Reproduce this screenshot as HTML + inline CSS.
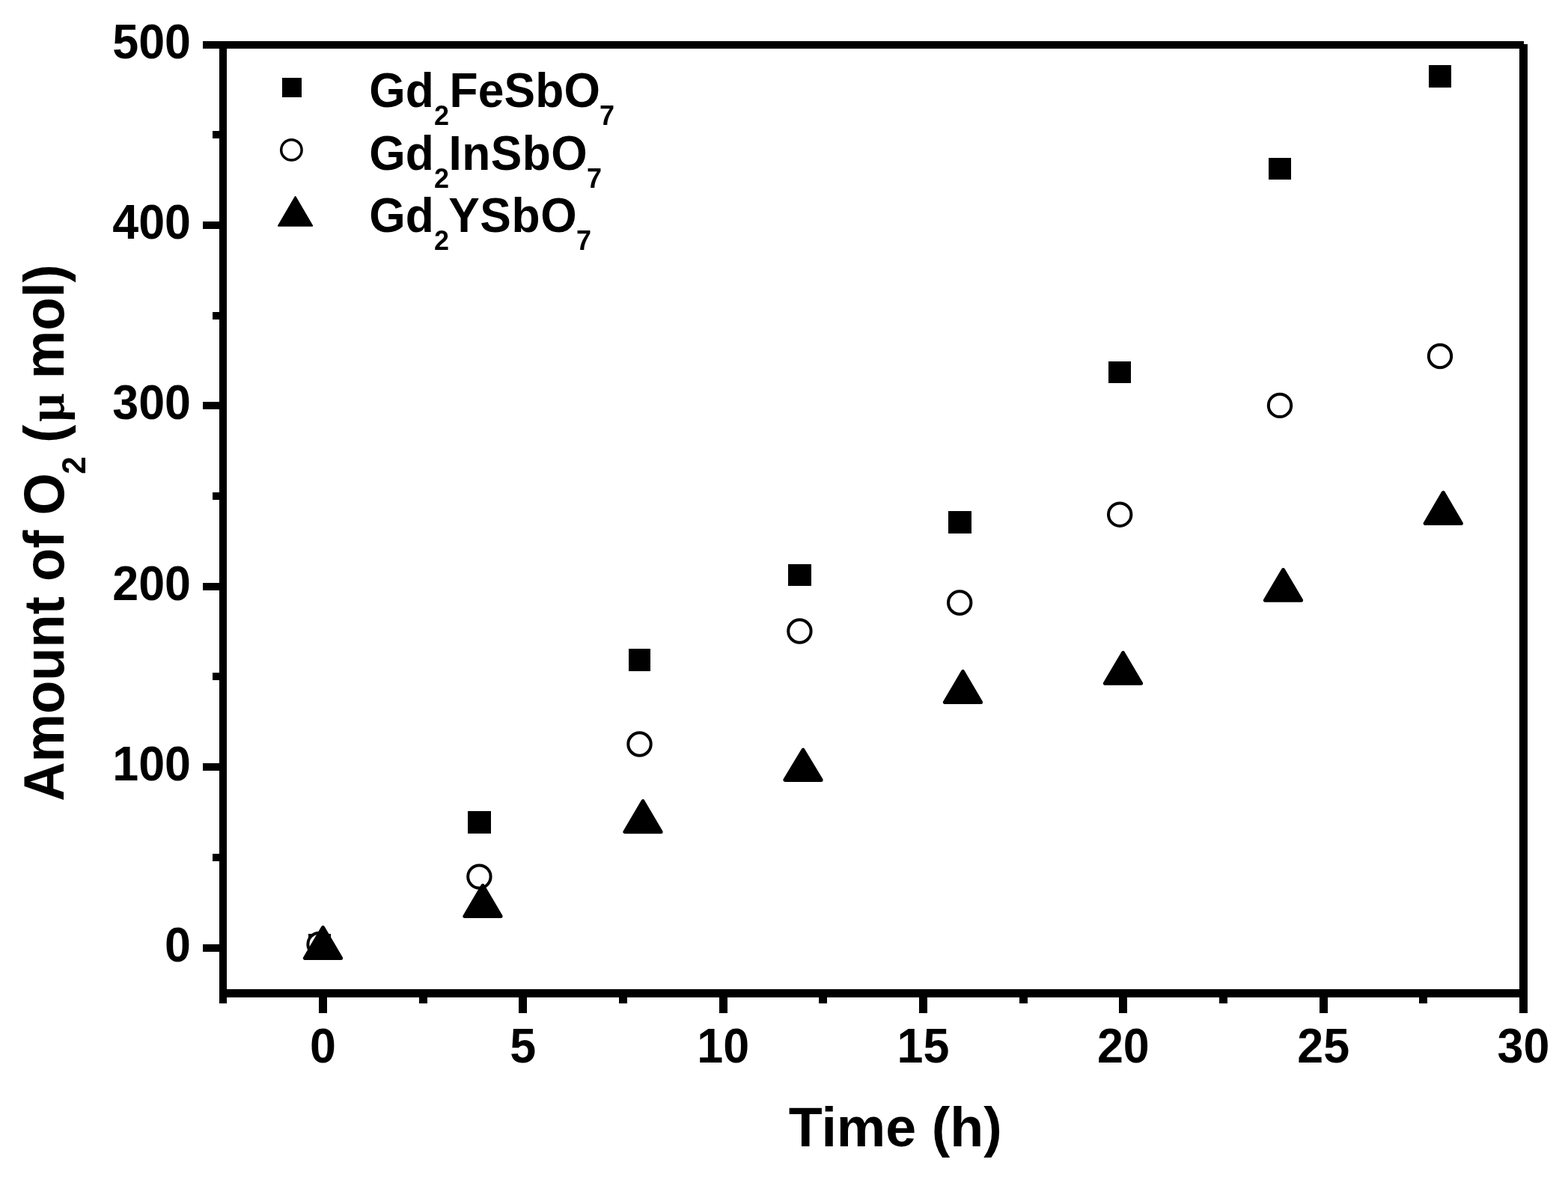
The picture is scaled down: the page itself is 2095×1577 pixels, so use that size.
<!DOCTYPE html>
<html lang="en"><head><meta charset="utf-8"><title>Amount of O2 vs Time</title>
<style>
html,body{margin:0;padding:0;background:#fff;}
body{width:2095px;height:1577px;overflow:hidden;}
svg{display:block;}
text{font-family:"Liberation Sans",sans-serif;font-weight:bold;fill:#000;}
.ax rect{shape-rendering:crispEdges;}
.sq rect{shape-rendering:crispEdges;}
tspan.mu{font-family:"Liberation Serif",serif;font-weight:bold;}
</style></head><body>
<svg width="2095" height="1577" viewBox="0 0 2095 1577" role="img" aria-label="Amount of O2 versus time for three photocatalysts">
<rect x="0" y="0" width="2095" height="1577" fill="#fff"/>
<g class="ax" fill="#000">
<rect x="271" y="55" width="1765" height="10"/>
<rect x="293" y="55" width="10" height="1286"/>
<rect x="293" y="1322" width="1748" height="11"/>
<rect x="2030" y="59" width="11" height="1295"/>
<rect x="271" y="1262" width="23" height="10"/>
<rect x="271" y="1020" width="23" height="10"/>
<rect x="271" y="779" width="23" height="10"/>
<rect x="271" y="537" width="23" height="10"/>
<rect x="271" y="296" width="23" height="10"/>
<rect x="284" y="1141" width="10" height="10"/>
<rect x="284" y="899" width="10" height="10"/>
<rect x="284" y="658" width="10" height="10"/>
<rect x="284" y="417" width="10" height="10"/>
<rect x="284" y="175" width="10" height="10"/>
<rect x="426" y="1330" width="11" height="24"/>
<rect x="693" y="1330" width="11" height="24"/>
<rect x="961" y="1330" width="11" height="24"/>
<rect x="1228" y="1330" width="11" height="24"/>
<rect x="1495" y="1330" width="11" height="24"/>
<rect x="1763" y="1330" width="11" height="24"/>
<rect x="560" y="1330" width="11" height="11"/>
<rect x="827" y="1330" width="11" height="11"/>
<rect x="1094" y="1330" width="11" height="11"/>
<rect x="1362" y="1330" width="11" height="11"/>
<rect x="1629" y="1330" width="11" height="11"/>
<rect x="1896" y="1330" width="11" height="11"/>
</g>
<g font-size="62.8">
<text transform="translate(255 1284.7) scale(1 1.042)" text-anchor="end">0</text>
<text transform="translate(255 1042.7) scale(1 1.042)" text-anchor="end">100</text>
<text transform="translate(255 801.7) scale(1 1.042)" text-anchor="end">200</text>
<text transform="translate(255 559.7) scale(1 1.042)" text-anchor="end">300</text>
<text transform="translate(255 318.7) scale(1 1.042)" text-anchor="end">400</text>
<text transform="translate(255 77.7) scale(1 1.042)" text-anchor="end">500</text>
<text transform="translate(431.5 1419.8) scale(1 1.042)" text-anchor="middle">0</text>
<text transform="translate(698.8 1419.8) scale(1 1.042)" text-anchor="middle">5</text>
<text transform="translate(966.2 1419.8) scale(1 1.042)" text-anchor="middle">10</text>
<text transform="translate(1233.5 1419.8) scale(1 1.042)" text-anchor="middle">15</text>
<text transform="translate(1500.8 1419.8) scale(1 1.042)" text-anchor="middle">20</text>
<text transform="translate(1768.2 1419.8) scale(1 1.042)" text-anchor="middle">25</text>
<text transform="translate(2035.5 1419.8) scale(1 1.042)" text-anchor="middle">30</text>
</g>
<g class="sq" fill="#000">
<rect x="412" y="1248" width="30" height="30"/>
<rect x="625" y="1084" width="31" height="30"/>
<rect x="840" y="867" width="29" height="30"/>
<rect x="1053" y="754" width="31" height="29"/>
<rect x="1267" y="683" width="31" height="30"/>
<rect x="1481" y="483" width="30" height="29"/>
<rect x="1695" y="211" width="30" height="29"/>
<rect x="1909" y="87" width="30" height="30"/>
</g>
<g fill="#fff" stroke="#000" stroke-width="4">
<circle cx="426.6" cy="1261.9" r="15.2"/>
<circle cx="640.4" cy="1171.6" r="15.2"/>
<circle cx="854.5" cy="994.5" r="15.2"/>
<circle cx="1068.4" cy="843.5" r="15.2"/>
<circle cx="1282.2" cy="805.5" r="15.2"/>
<circle cx="1496.2" cy="687.7" r="15.2"/>
<circle cx="1710.0" cy="541.9" r="15.2"/>
<circle cx="1924.0" cy="476.0" r="15.2"/>
</g>
<g fill="#000" stroke="#000" stroke-width="5" stroke-linejoin="round">
<polygon points="431.5,1239.5 407.4,1280.5 455.6,1280.5"/>
<polygon points="645.0,1183.5 620.9,1224.5 669.1,1224.5"/>
<polygon points="859.0,1070.7 834.9,1111.7 883.1,1111.7"/>
<polygon points="1073.0,1002.2 1048.9,1042.4 1097.1,1042.4"/>
<polygon points="1286.5,897.4 1262.4,938.6 1310.6,938.6"/>
<polygon points="1500.5,872.4 1476.4,913.3 1524.6,913.3"/>
<polygon points="1714.5,761.5 1690.4,802.3 1738.6,802.3"/>
<polygon points="1928.3,658.3 1904.2,699.5 1952.4,699.5"/>
</g>
<g class="sq" fill="#000"><rect x="377" y="104" width="26" height="26"/></g>
<circle cx="389.4" cy="200.4" r="13.7" fill="#fff" stroke="#000" stroke-width="3.5"/>
<g fill="#000" stroke="#000" stroke-width="2" stroke-linejoin="round"><polygon points="394.6,263.0 372.0,301.8 417.2,301.8"/></g>
<text font-size="62.3" transform="translate(0 143.0) scale(1 1.03)"><tspan x="493.2" y="0">Gd</tspan><tspan x="580" y="23.30" font-size="36">2</tspan><tspan x="600.5" y="0" letter-spacing="0.2">FeSbO</tspan><tspan x="801.0" y="23.30" font-size="36">7</tspan></text>
<text font-size="62.3" transform="translate(0 227.0) scale(1 1.03)"><tspan x="493.2" y="0">Gd</tspan><tspan x="580" y="23.30" font-size="36">2</tspan><tspan x="599.6" y="0" letter-spacing="0.45">InSbO</tspan><tspan x="784.0" y="23.30" font-size="36">7</tspan></text>
<text font-size="62.3" transform="translate(0 310.2) scale(1 1.03)"><tspan x="493.2" y="0">Gd</tspan><tspan x="580" y="23.30" font-size="36">2</tspan><tspan x="599.2" y="0" letter-spacing="0.6">YSbO</tspan><tspan x="770.0" y="23.30" font-size="36">7</tspan></text>
<text font-size="73.6" transform="translate(1053.8 1532) scale(1 1)">Time (h)</text>
<text font-size="72.5" transform="translate(85.1 1070.8) rotate(-90) scale(1 1.045)"><tspan x="0" y="0">Amount of O</tspan><tspan x="437" y="27.5" font-size="42.5">2 </tspan><tspan x="479" y="0">(</tspan><tspan class="mu" x="507" y="0" font-size="67.425">μ </tspan><tspan x="564.5" y="0">mol)</tspan></text>
</svg>
</body></html>
